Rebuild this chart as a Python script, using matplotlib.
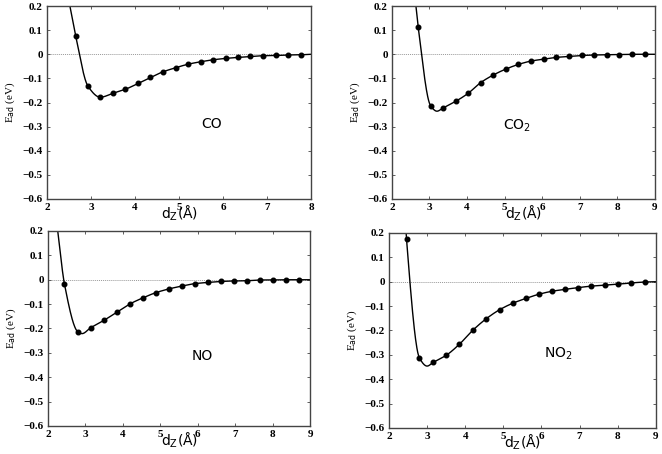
import numpy as np
from matplotlib import pyplot as plt

# computed points (markers)
co_x = [2.65, 2.93, 3.21, 3.51, 3.78, 4.07, 4.35, 4.63, 4.92, 5.21, 5.49, 5.77, 6.06, 6.34, 6.62, 6.91, 7.20, 7.48, 7.77]
co_y = [0.077, -0.132, -0.178, -0.161, -0.145, -0.121, -0.096, -0.073, -0.056, -0.041, -0.031, -0.023, -0.017, -0.013, -0.009, -0.006, -0.005, -0.003, -0.002]

co2_x = [2.70, 3.03, 3.36, 3.70, 4.03, 4.36, 4.70, 5.04, 5.37, 5.71, 6.05, 6.38, 6.72, 7.06, 7.39, 7.72, 8.06, 8.40, 8.73]
co2_y = [0.113, -0.213, -0.223, -0.195, -0.162, -0.118, -0.086, -0.061, -0.042, -0.028, -0.020, -0.013, -0.009, -0.005, -0.003, -0.002, -0.001, 0.0, 0.0]

no_x = [2.44, 2.80, 3.14, 3.49, 3.83, 4.19, 4.54, 4.88, 5.22, 5.57, 5.92, 6.27, 6.62, 6.96, 7.32, 7.66, 8.00, 8.35, 8.70]
no_y = [-0.018, -0.214, -0.197, -0.167, -0.134, -0.099, -0.074, -0.053, -0.038, -0.026, -0.016, -0.011, -0.007, -0.005, -0.004, -0.001, -0.001, 0.0, 0.0]

no2_x = [2.46, 2.80, 3.16, 3.50, 3.85, 4.20, 4.55, 4.90, 5.25, 5.60, 5.94, 6.28, 6.63, 6.97, 7.31, 7.66, 8.00, 8.36, 8.73]
no2_y = [0.175, -0.313, -0.331, -0.302, -0.256, -0.199, -0.152, -0.115, -0.088, -0.068, -0.051, -0.039, -0.031, -0.024, -0.018, -0.014, -0.010, -0.005, -0.001]

# extra points of the fitted curve: where it leaves the top, its minimum, right end
co_top, co_min, co_end = (2.52, 0.20), None, (8.0, 0.0)
co2_top, co2_min, co2_end = (2.64, 0.20), (3.20, -0.236), (9.0, 0.0)
no_top, no_min, no_end = (2.26, 0.20), (2.91, -0.221), (9.0, 0.0)
no2_top, no2_min, no2_end = (2.45, 0.20), (3.00, -0.346), (9.0, 0.0)

names = ["CO", "CO$_2$", "NO", "NO$_2$"]
label_pos = [(5.73, -0.29), (5.32, -0.295), (6.11, -0.311), (6.44, -0.296)]
xmax = [8, 9, 9, 9]


def pchip(xk, yk, n=30):
    # monotone cubic (Fritsch-Carlson) through the knots, only for drawing
    xk = np.asarray(xk, float)
    yk = np.asarray(yk, float)
    h = np.diff(xk)
    d = np.diff(yk) / h
    m = np.zeros_like(yk)
    for i in range(1, len(xk) - 1):
        if d[i - 1] * d[i] > 0:
            w1 = 2 * h[i] + h[i - 1]
            w2 = h[i] + 2 * h[i - 1]
            m[i] = (w1 + w2) / (w1 / d[i - 1] + w2 / d[i])
    m[0] = d[0]
    m[-1] = d[-1]
    xs, ys = [], []
    for i in range(len(h)):
        t = np.linspace(0, 1, n, endpoint=False)
        h00 = 2 * t ** 3 - 3 * t ** 2 + 1
        h10 = t ** 3 - 2 * t ** 2 + t
        h01 = -2 * t ** 3 + 3 * t ** 2
        h11 = t ** 3 - t ** 2
        xs.append(xk[i] + t * h[i])
        ys.append(h00 * yk[i] + h10 * h[i] * m[i] + h01 * yk[i + 1] + h11 * h[i] * m[i + 1])
    xs.append([xk[-1]])
    ys.append([yk[-1]])
    return np.concatenate(xs), np.concatenate(ys)


def knots(x, y, top, mn, end):
    pts = [top] + list(zip(x, y)) + [end]
    if mn is not None:
        pts.append(mn)
    pts.sort(key=lambda q: q[0])
    return [q[0] for q in pts], [q[1] for q in pts]


data = [(co_x, co_y, co_top, co_min, co_end),
        (co2_x, co2_y, co2_top, co2_min, co2_end),
        (no_x, no_y, no_top, no_min, no_end),
        (no2_x, no2_y, no2_top, no2_min, no2_end)]

boxes = [[0.071, 0.5617, 0.399, 0.425],
         [0.592, 0.5617, 0.397, 0.425],
         [0.0725, 0.0617, 0.396, 0.4295],
         [0.5876, 0.0573, 0.403, 0.4295]]

fig = plt.figure(figsize=(6.62, 4.54), dpi=100)
serif = "Liberation Serif"
axc = "#444444"

for k in range(4):
    ax = fig.add_axes(boxes[k])
    x, y, top, mn, end = data[k]
    kx, ky = knots(x, y, top, mn, end)
    sx, sy = pchip(kx, ky)
    ax.axhline(0, color="#999999", lw=0.7, ls=(0, (1, 1)), zorder=1)
    ax.plot(sx, sy, color="black", lw=1.0, zorder=2)
    ax.plot(x, y, "o", color="black", ms=3.3, zorder=3)
    ax.set_xlim(2, xmax[k])
    ax.set_ylim(-0.6, 0.2)
    ax.set_xticks(range(2, xmax[k] + 1))
    ax.set_yticks(np.arange(-0.6, 0.21, 0.1))
    ax.set_yticklabels(["\u22120.6", "\u22120.5", "\u22120.4", "\u22120.3", "\u22120.2", "\u22120.1", "0", "0.1", "0.2"])
    ax.tick_params(direction="in", length=2.5, width=0.6, top=True, right=True,
                   labelsize=8, pad=3, colors=axc, labelcolor="black")
    for lab in ax.get_xticklabels() + ax.get_yticklabels():
        lab.set_fontfamily(serif)
        lab.set_fontweight("bold")
    for s in ax.spines.values():
        s.set_color(axc)
        s.set_linewidth(1.0)
    ax.set_ylabel("E$_{\\rm ad}$ (eV)", fontfamily=serif, fontsize=8, labelpad=4)
    ax.text(0.5, -0.075, "d$_{\\rm Z}$(\u00c5)", transform=ax.transAxes, fontsize=10,
            ha="center", va="center", fontfamily="DejaVu Sans")
    lx, ly = label_pos[k]
    ax.text(lx, ly, names[k], fontsize=10, ha="center", va="center", fontfamily="DejaVu Sans")

fig.savefig("out.png", dpi=100)
